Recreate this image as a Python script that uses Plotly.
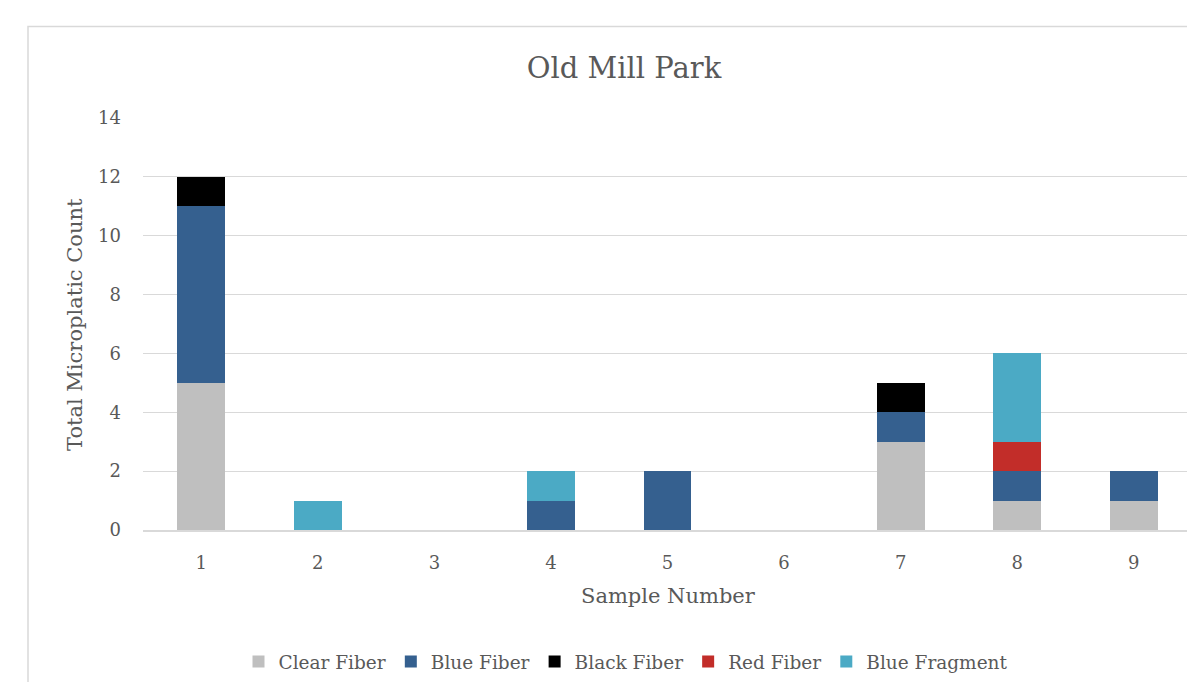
import plotly.graph_objects as go

# Microplastic counts per sample, split by particle type
samples = ["1", "2", "3", "4", "5", "6", "7", "8", "9"]
clear_fiber = [5, 0, 0, 0, 0, 0, 3, 1, 1]
blue_fiber = [6, 0, 0, 1, 2, 0, 1, 1, 1]
black_fiber = [1, 0, 0, 0, 0, 0, 1, 0, 0]
red_fiber = [0, 0, 0, 0, 0, 0, 0, 1, 0]
blue_fragment = [0, 1, 0, 1, 0, 0, 0, 3, 0]
y_ticks = [0, 2, 4, 6, 8, 10, 12, 14]

series = [
    ("Clear Fiber", clear_fiber, "#BFBFBF"),
    ("Blue Fiber", blue_fiber, "#35608F"),
    ("Black Fiber", black_fiber, "#000000"),
    ("Red Fiber", red_fiber, "#C22D29"),
    ("Blue Fragment", blue_fragment, "#4BAAC5"),
]

FONT = "DejaVu Serif"
TEXT = "#595959"
GRID = "#D9D9D9"

fig = go.Figure()
for name, vals, color in series:
    fig.add_trace(go.Bar(
        x=samples, y=vals, name=name,
        marker=dict(color=color, line=dict(width=0)),
    ))

W, H = 1187, 682
L, T, B = 143, 118, 152

fig.update_layout(
    width=W, height=H,
    barmode="stack",
    bargap=0.59,
    paper_bgcolor="white",
    plot_bgcolor="white",
    margin=dict(l=L, r=0, t=T, b=B),
    font=dict(family=FONT, color=TEXT),
    title=dict(
        text="Old Mill Park",
        font=dict(family=FONT, size=29, color=TEXT),
        x=(624 - L) / (W - L), xref="paper", xanchor="center",
        y=1 - 68 / H, yref="container", yanchor="middle",
    ),
    xaxis=dict(
        type="category",
        range=[-0.5, 8.457],
        showgrid=False,
        showline=True, linecolor=GRID, linewidth=1.5,
        ticks="", tickfont=dict(size=18, color=TEXT),
        ticklabelstandoff=16,
        fixedrange=True,
    ),
    yaxis=dict(
        range=[0, 14],
        tickvals=y_ticks,
        showgrid=True, gridcolor=GRID, gridwidth=1.3,
        zeroline=False,
        ticks="", tickfont=dict(size=18, color=TEXT),
        ticklabelstandoff=21,
        fixedrange=True,
    ),
    legend=dict(
        orientation="h",
        x=(626 - L) / (W - L), xanchor="center",
        y=(530 - 662) / (530 - T), yanchor="middle",
        font=dict(size=18.5, color=TEXT),
        itemwidth=30,
        traceorder="normal",
        itemclick=False, itemdoubleclick=False,
    ),
    showlegend=True,
    annotations=[
        dict(
            text="Sample Number", showarrow=False,
            xref="paper", yref="paper",
            x=(668 - L) / (W - L), y=(530 - 596) / (530 - T),
            xanchor="center", yanchor="middle",
            font=dict(size=21, color=TEXT),
        ),
        dict(
            text="Total Microplatic Count", showarrow=False,
            xref="paper", yref="paper",
            x=(75 - L) / (W - L), y=(530 - 325) / (530 - T),
            xanchor="center", yanchor="middle", textangle=-90,
            font=dict(size=21, color=TEXT),
        ),
    ],
    shapes=[
        dict(
            type="rect", xref="paper", yref="paper",
            x0=(28 - L) / (W - L), x1=1.02,
            y0=-0.5, y1=(530 - 26.5) / (530 - T),
            line=dict(color=GRID, width=1.5),
            fillcolor="rgba(0,0,0,0)", layer="below",
        )
    ],
)

fig.write_html("out.html", config={"displayModeBar": False})
